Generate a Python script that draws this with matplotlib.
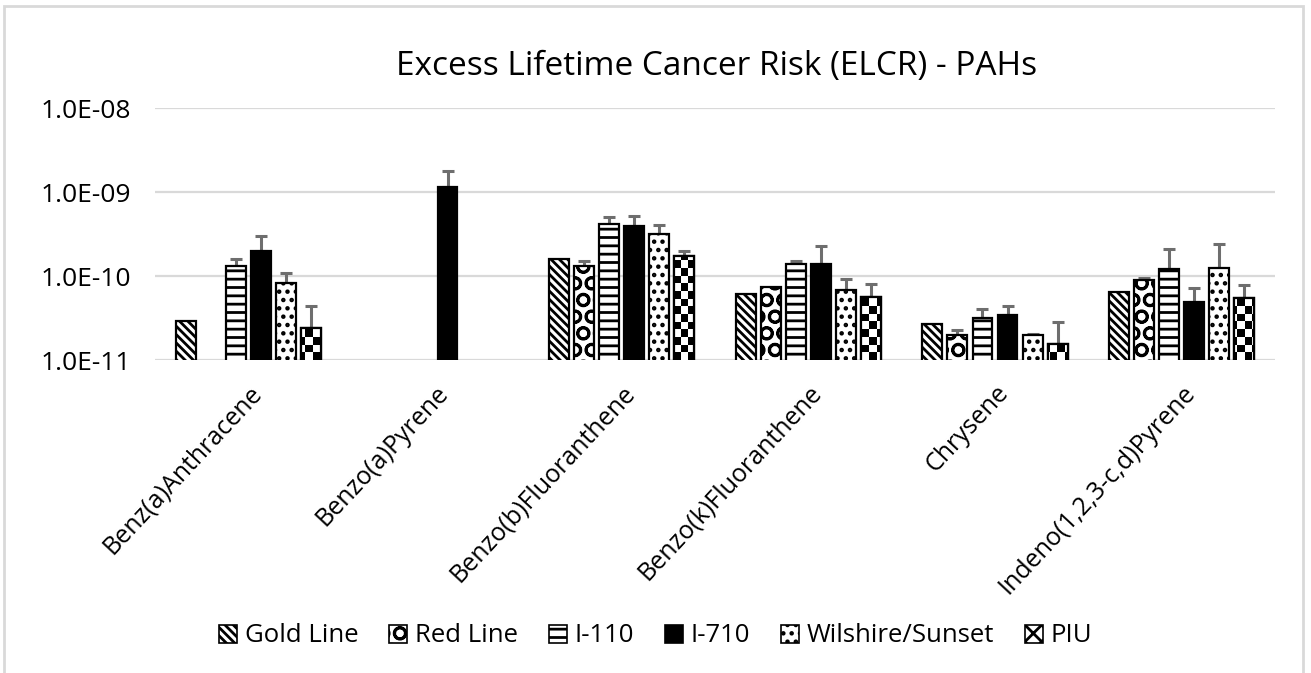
import numpy as np
import matplotlib
matplotlib.use("Agg")
import matplotlib.pyplot as plt
from matplotlib.patches import Patch, Rectangle
from matplotlib.image import AxesImage

plt.rcParams['font.family'] = ['Open Sans', 'DejaVu Sans']
plt.rcParams['hatch.linewidth'] = 2.0

# Data (log scale)
categories = ["Benz(a)Anthracene", "Benzo(a)Pyrene", "Benzo(b)Fluoranthene",
              "Benzo(k)Fluoranthene", "Chrysene", "Indeno(1,2,3-c,d)Pyrene"]
series_names = ["Gold Line", "Red Line", "I-110", "I-710", "Wilshire/Sunset", "PIU"]

nan = np.nan
gold_line = [2.9e-11, nan, 1.6e-10, 6.1e-11, 2.7e-11, 6.5e-11]
red_line = [nan, nan, 1.3e-10, 7.3e-11, 2.0e-11, 9.0e-11]
i110 = [1.3e-10, nan, 4.2e-10, 1.4e-10, 3.2e-11, 1.22e-10]
i710 = [2.0e-10, 1.15e-9, 3.9e-10, 1.4e-10, 3.4e-11, 4.9e-11]
wilshire = [8.2e-11, nan, 3.2e-10, 6.8e-11, 1.97e-11, 1.24e-10]
piu = [2.4e-11, nan, 1.75e-10, 5.7e-11, 1.56e-11, 5.5e-11]

# upper error (nan = no error bar shown)
gold_err = [nan, nan, nan, nan, nan, nan]
red_err = [nan, nan, 2.0e-11, nan, 3.0e-12, 4.0e-12]
i110_err = [3.0e-11, nan, 8.0e-11, 1.0e-11, 8.0e-12, 9.0e-11]
i710_err = [1.0e-10, 6.5e-10, 1.3e-10, 9.0e-11, 1.0e-11, 2.2e-11]
wilshire_err = [2.8e-11, nan, 9.0e-11, 2.4e-11, 7.0e-13, 1.16e-10]
piu_err = [2.0e-11, nan, 2.5e-11, 2.3e-11, 1.24e-11, 2.3e-11]

values = [gold_line, red_line, i110, i710, wilshire, piu]
errors = [gold_err, red_err, i110_err, i710_err, wilshire_err, piu_err]
hatches = ['\\\\\\\\', 'O', '--', None, '..', None]
faces = ['white', 'white', 'white', 'black', 'white', 'white']

fig = plt.figure(figsize=(13.11, 6.73), dpi=100)
ax = fig.add_axes([155 / 1311, 1 - 360 / 673, 1120 / 1311, 252 / 673])

x = np.arange(len(categories))
width = 0.107
step = 0.134

piu_bars = None
for i, (name, vals, errs) in enumerate(zip(series_names, values, errors)):
    vals = np.array(vals, dtype=float)
    errs = np.array(errs, dtype=float)
    xs = x + (i - 2.5) * step
    ok = ~np.isnan(vals)
    bars = ax.bar(xs[ok], vals[ok], width, color=faces[i], edgecolor='black',
                  linewidth=1.6, hatch=hatches[i], zorder=3)
    if name == "PIU":
        piu_bars = bars
    has_err = ok & ~np.isnan(errs)
    if has_err.any():
        ax.errorbar(xs[has_err], vals[has_err],
                    yerr=[np.zeros(has_err.sum()), errs[has_err]],
                    fmt='none', ecolor='#6e6e6e', elinewidth=2.2,
                    capsize=4.3, capthick=2.2, zorder=2)

# checkerboard fill for PIU bars
ax_w, ax_h = 1120, 252
cell = 7.5
checker = (np.indices((int(ax_h / cell), int(ax_w / cell))).sum(axis=0) % 2).astype(float)
for b in piu_bars:
    im = AxesImage(ax, cmap='gray_r', interpolation='nearest',
                   extent=(0, 1, 0, 1), transform=ax.transAxes, zorder=3.5)
    im.set_data(checker)
    im.set_clim(0, 1)
    im.set_clip_path(b)
    ax.add_image(im)
    ax.add_patch(Rectangle(b.get_xy(), b.get_width(), b.get_height(),
                           fill=False, edgecolor='black', linewidth=1.6, zorder=4))

ax.set_yscale('log')
ax.set_ylim(1e-11, 1e-8)
ax.set_xlim(-0.5, len(categories) - 0.5)
ax.set_yticks([1e-11, 1e-10, 1e-9, 1e-8])
ax.set_yticklabels(["1.0E-11", "1.0E-10", "1.0E-09", "1.0E-08"])
ax.yaxis.set_minor_locator(matplotlib.ticker.NullLocator())
ax.tick_params(axis='y', length=0, pad=17, labelsize=19)
ax.set_xticks(x + 0.05)
ax.set_xticklabels(categories, rotation=47, ha='right', va='center',
                   rotation_mode='anchor', fontsize=18)
ax.tick_params(axis='x', length=0, pad=21)
ax.grid(axis='y', color='#d9d9d9', linewidth=1.6, zorder=0)
ax.set_axisbelow(True)
for s in ax.spines.values():
    s.set_visible(False)

fig.text(717 / 1311, 1 - 66 / 673, "Excess Lifetime Cancer Risk (ELCR) - PAHs",
         ha='center', va='center', fontsize=24)

handles = [Patch(facecolor=faces[i], edgecolor='black', hatch=hatches[i], linewidth=1.2)
           for i in range(5)]
handles.append(Patch(facecolor='white', edgecolor='black', hatch='xx', linewidth=1.2))
fig.legend(handles, series_names, loc='center', bbox_to_anchor=(0.5, 1 - 636 / 673),
           ncol=6, frameon=False, fontsize=18.5, handlelength=0.7, handleheight=0.7,
           handletextpad=0.3, columnspacing=1.2)

# chart border
fig.patches.append(Rectangle((4 / 1311, -0.05), 1299 / 1311, 1.05 - 6 / 673,
                             transform=fig.transFigure, fill=False,
                             edgecolor='#d9d9d9', linewidth=2))

fig.savefig("out.png", dpi=100)
